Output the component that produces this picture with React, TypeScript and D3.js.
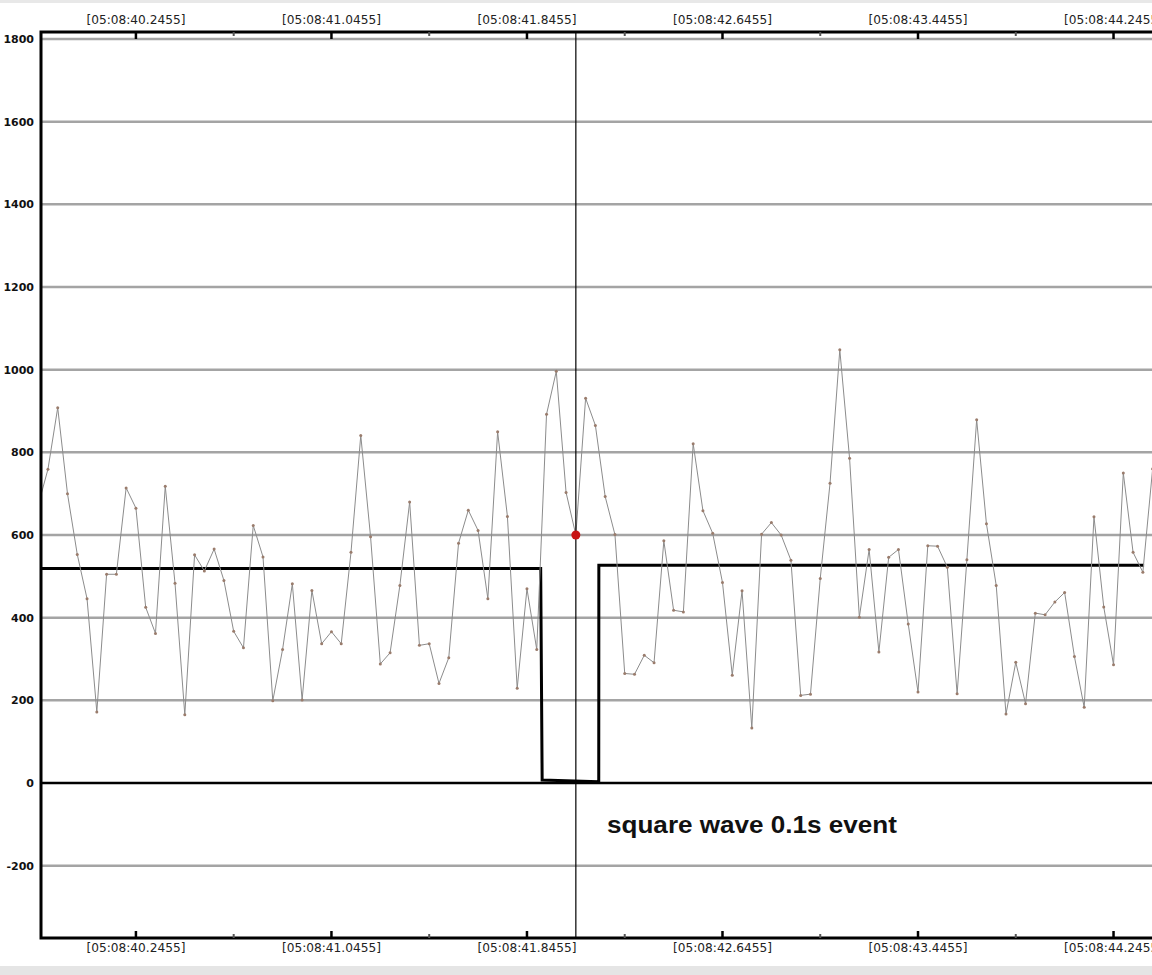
import React, { useRef, useEffect } from 'react';
import * as d3 from 'd3';

// sampled signal, 25 Hz, time in seconds past 05:08
const SAMPLE_START = 39.8455;
const SAMPLE_PERIOD = 0.04;
const signal = [
  672, 759, 908, 700, 553, 446, 172, 505, 505, 714,
  665, 425, 362, 718, 483, 165, 552, 513, 566, 490,
  367, 327, 623, 547, 199, 323, 482, 201, 466, 337,
  366, 337, 558, 841, 596, 288, 315, 478, 680, 333,
  337, 241, 303, 580, 660, 611, 446, 850, 645, 229,
  470, 323, 892, 996, 703, 600, 931, 865, 693, 601,
  265, 263, 309, 291, 586, 418, 414, 821, 659, 604,
  485, 261, 465, 133, 602, 630, 600, 539, 212, 215,
  495, 725, 1048, 786, 401, 565, 317, 546, 565, 385,
  220, 574, 573, 522, 216, 540, 879, 627, 478, 167,
  292, 192, 411, 407, 438, 461, 306, 183, 644, 426,
  286, 750, 558, 510, 760,
];

// square wave trace
const squareTimes = [39.8455, 41.9016, 41.9076, 42.1392, 42.1396, 44.3705];
const squareValues = [519, 519, 7, 3, 527, 527];

// axes
const majorTicks = [40.2455, 41.0455, 41.8455, 42.6455, 43.4455, 44.2455];
const tickLabels = [
  '[05:08:40.2455]', '[05:08:41.0455]', '[05:08:41.8455]',
  '[05:08:42.6455]', '[05:08:43.4455]', '[05:08:44.2455]',
];
const minorTicks = [40.6455, 41.4455, 42.2455, 43.0455, 43.8455];
const yTicks = [1800, 1600, 1400, 1200, 1000, 800, 600, 400, 200, 0, -200];

// cursor
const cursorTime = 42.0455;
const cursorValue = 600;

const annotation = { text: 'square wave 0.1s event', time: 42.173, value: -121 };

export default function App() {
  const svgRef = useRef<SVGSVGElement>(null);

  useEffect(() => {
    if (!svgRef.current) return;
    const svg = d3.select(svgRef.current);
    svg.selectAll('*').remove();

    const width = 1152;
    const height = 975;
    const plot = { left: 41, top: 32, right: 1152, bottom: 938 };

    const x = d3.scaleLinear().domain([39.8571, 44.4029]).range([plot.left, plot.right]);
    const y = d3.scaleLinear().domain([-375, 1817]).range([plot.bottom, plot.top]);

    // page background + window strips
    svg.append('rect').attr('width', width).attr('height', height).attr('fill', '#fff');
    svg.append('rect').attr('width', width).attr('height', 3).attr('fill', '#e8e8e8');
    svg.append('rect').attr('y', 966).attr('width', width).attr('height', height - 966).attr('fill', '#e5e5e5');

    svg.append('defs').append('clipPath').attr('id', 'plot-clip')
      .append('rect')
      .attr('x', plot.left)
      .attr('y', plot.top)
      .attr('width', plot.right - plot.left + 20)
      .attr('height', plot.bottom - plot.top);

    // grid lines
    svg.append('g')
      .selectAll('line')
      .data(yTicks.filter(v => v !== 0))
      .enter()
      .append('line')
      .attr('x1', plot.left)
      .attr('x2', plot.right + 10)
      .attr('y1', d => y(d))
      .attr('y2', d => y(d))
      .attr('stroke', '#a4a4a4')
      .attr('stroke-width', 2.5);

    // zero line
    svg.append('line')
      .attr('x1', plot.left)
      .attr('x2', plot.right + 10)
      .attr('y1', y(0))
      .attr('y2', y(0))
      .attr('stroke', '#000')
      .attr('stroke-width', 2.5);

    // y labels
    svg.append('g')
      .selectAll('text')
      .data(yTicks)
      .enter()
      .append('text')
      .attr('x', plot.left - 7)
      .attr('y', d => y(d))
      .attr('dy', '0.36em')
      .attr('text-anchor', 'end')
      .attr('font-family', '"DejaVu Sans", Verdana, sans-serif')
      .attr('font-weight', 'bold')
      .attr('font-size', 11)
      .attr('fill', '#111')
      .text(d => String(d));

    const plotArea = svg.append('g').attr('clip-path', 'url(#plot-clip)');

    // square wave
    const sqLine = d3.line<number>()
      .x((_, i) => x(squareTimes[i]))
      .y(d => y(d));
    plotArea.append('path')
      .datum(squareValues)
      .attr('fill', 'none')
      .attr('stroke', '#000')
      .attr('stroke-width', 3)
      .attr('d', sqLine);

    // signal
    const sigLine = d3.line<number>()
      .x((_, i) => x(SAMPLE_START + i * SAMPLE_PERIOD))
      .y(d => y(d));
    plotArea.append('path')
      .datum(signal)
      .attr('fill', 'none')
      .attr('stroke', '#8c8c8c')
      .attr('stroke-width', 1)
      .attr('d', sigLine);

    plotArea.selectAll('.pt')
      .data(signal)
      .enter()
      .append('circle')
      .attr('class', 'pt')
      .attr('cx', (_, i) => x(SAMPLE_START + i * SAMPLE_PERIOD))
      .attr('cy', d => y(d))
      .attr('r', 1.5)
      .attr('fill', '#9a7c6c');

    // cursor
    plotArea.append('line')
      .attr('x1', x(cursorTime))
      .attr('x2', x(cursorTime))
      .attr('y1', plot.top)
      .attr('y2', plot.bottom)
      .attr('stroke', '#000')
      .attr('stroke-width', 1.2);
    plotArea.append('circle')
      .attr('cx', x(cursorTime))
      .attr('cy', y(cursorValue))
      .attr('r', 4.5)
      .attr('fill', '#c81414');

    // frame
    svg.append('path')
      .attr('d', `M${plot.right + 10},${plot.top}H${plot.left}V${plot.bottom}H${plot.right + 10}`)
      .attr('fill', 'none')
      .attr('stroke', '#000')
      .attr('stroke-width', 3);

    // ticks top and bottom
    const ticks = svg.append('g');
    [[plot.top, 1], [plot.bottom, -1]].forEach(([edge, dir]) => {
      ticks.selectAll(null)
        .data(majorTicks)
        .enter()
        .append('line')
        .attr('x1', d => x(d))
        .attr('x2', d => x(d))
        .attr('y1', edge)
        .attr('y2', edge + dir * 7)
        .attr('stroke', '#000')
        .attr('stroke-width', 2.5);
      ticks.selectAll(null)
        .data(minorTicks)
        .enter()
        .append('line')
        .attr('x1', d => x(d))
        .attr('x2', d => x(d))
        .attr('y1', edge)
        .attr('y2', edge + dir * 4)
        .attr('stroke', '#555')
        .attr('stroke-width', 2);
    });

    // time labels
    [plot.top - 8, plot.bottom + 14].forEach(ly => {
      svg.append('g')
        .selectAll('text')
        .data(majorTicks)
        .enter()
        .append('text')
        .attr('x', d => x(d))
        .attr('y', ly)
        .attr('text-anchor', 'middle')
        .attr('font-family', '"DejaVu Sans", Verdana, sans-serif')
        .attr('font-size', 11.5)
        .attr('textLength', 99)
        .attr('lengthAdjust', 'spacingAndGlyphs')
        .attr('fill', '#222')
        .text((_, i) => tickLabels[i]);
    });

    // annotation
    svg.append('text')
      .attr('x', x(annotation.time))
      .attr('y', y(annotation.value))
      .attr('font-family', '"Liberation Sans", Arial, sans-serif')
      .attr('font-weight', 'bold')
      .attr('font-size', 23)
      .attr('textLength', 290)
      .attr('lengthAdjust', 'spacingAndGlyphs')
      .attr('fill', '#111')
      .text(annotation.text);
  }, []);

  return (
    <svg
      ref={svgRef}
      width={1152}
      height={975}
      style={{ position: 'absolute', left: 0, top: 0, display: 'block' }}
    />
  );
}
